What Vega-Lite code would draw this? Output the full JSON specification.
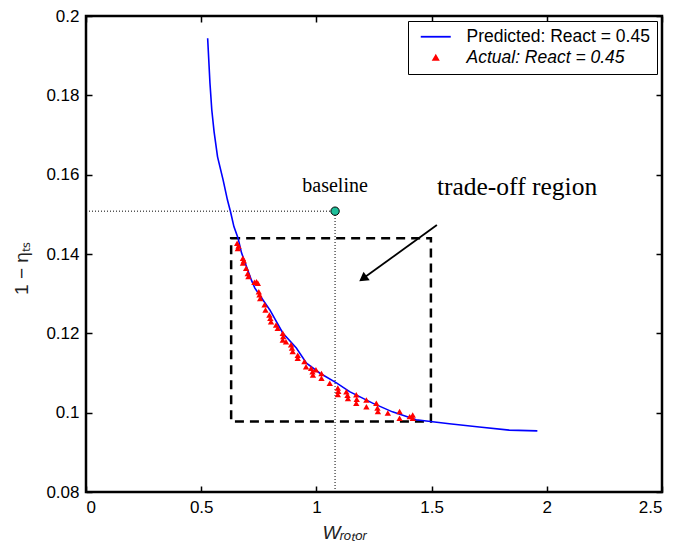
{
  "$schema": "https://vega.github.io/schema/vega-lite/v6.json",
  "width": 576,
  "height": 476,
  "autosize": {"type": "none"},
  "padding": {"left": 86, "top": 16, "right": 16, "bottom": 54},
  "background": "white",
  "config": {
    "view": {"stroke": "black", "strokeWidth": 2.5},
    "axis": {
      "domain": false,
      "grid": false,
      "ticks": true,
      "tickColor": "black",
      "tickWidth": 1.5,
      "tickSize": -6,
      "labelPadding": 13,
      "labelFont": "Liberation Sans",
      "labelFontSize": 17,
      "labelColor": "black",
      "titleFont": "Liberation Sans",
      "titleFontSize": 19,
      "titleFontWeight": "normal",
      "titleColor": "#222222"
    },
    "legend": {
      "orient": "top-right",
      "offset": 5,
      "padding": 7,
      "strokeColor": "black",
      "fillColor": "white",
      "labelFont": "Liberation Sans",
      "labelFontSize": 17.5,
      "labelColor": "black",
      "labelLimit": 0,
      "labelOffset": 22,
      "symbolOffset": 12,
      "rowPadding": 2,
      "symbolSize": 25,
      "symbolStrokeWidth": 1.8
    }
  },
  "datasets": {
    "curve": [
      {"w": 0.528, "eta": 0.1944, "series": "Predicted: React = 0.45"},
      {"w": 0.538, "eta": 0.1831, "series": "Predicted: React = 0.45"},
      {"w": 0.546, "eta": 0.1763, "series": "Predicted: React = 0.45"},
      {"w": 0.556, "eta": 0.1708, "series": "Predicted: React = 0.45"},
      {"w": 0.571, "eta": 0.1645, "series": "Predicted: React = 0.45"},
      {"w": 0.595, "eta": 0.1587, "series": "Predicted: React = 0.45"},
      {"w": 0.614, "eta": 0.1536, "series": "Predicted: React = 0.45"},
      {"w": 0.627, "eta": 0.1507, "series": "Predicted: React = 0.45"},
      {"w": 0.642, "eta": 0.1469, "series": "Predicted: React = 0.45"},
      {"w": 0.660, "eta": 0.1440, "series": "Predicted: React = 0.45"},
      {"w": 0.675, "eta": 0.1403, "series": "Predicted: React = 0.45"},
      {"w": 0.718, "eta": 0.1334, "series": "Predicted: React = 0.45"},
      {"w": 0.733, "eta": 0.1314, "series": "Predicted: React = 0.45"},
      {"w": 0.798, "eta": 0.1259, "series": "Predicted: React = 0.45"},
      {"w": 0.854, "eta": 0.1201, "series": "Predicted: React = 0.45"},
      {"w": 0.913, "eta": 0.1163, "series": "Predicted: React = 0.45"},
      {"w": 0.957, "eta": 0.1125, "series": "Predicted: React = 0.45"},
      {"w": 1.014, "eta": 0.1100, "series": "Predicted: React = 0.45"},
      {"w": 1.087, "eta": 0.1075, "series": "Predicted: React = 0.45"},
      {"w": 1.144, "eta": 0.1053, "series": "Predicted: React = 0.45"},
      {"w": 1.244, "eta": 0.1024, "series": "Predicted: React = 0.45"},
      {"w": 1.330, "eta": 0.1002, "series": "Predicted: React = 0.45"},
      {"w": 1.433, "eta": 0.0982, "series": "Predicted: React = 0.45"},
      {"w": 1.504, "eta": 0.0977, "series": "Predicted: React = 0.45"},
      {"w": 1.577, "eta": 0.0972, "series": "Predicted: React = 0.45"},
      {"w": 1.707, "eta": 0.0964, "series": "Predicted: React = 0.45"},
      {"w": 1.837, "eta": 0.0956, "series": "Predicted: React = 0.45"},
      {"w": 1.959, "eta": 0.0954, "series": "Predicted: React = 0.45"}
    ],
    "actual": [
      {"w": 0.656, "eta": 0.1427, "series": "Actual: React = 0.45"},
      {"w": 0.659, "eta": 0.1414, "series": "Actual: React = 0.45"},
      {"w": 0.662, "eta": 0.1420, "series": "Actual: React = 0.45"},
      {"w": 0.681, "eta": 0.1389, "series": "Actual: React = 0.45"},
      {"w": 0.681, "eta": 0.1377, "series": "Actual: React = 0.45"},
      {"w": 0.685, "eta": 0.1383, "series": "Actual: React = 0.45"},
      {"w": 0.695, "eta": 0.1364, "series": "Actual: React = 0.45"},
      {"w": 0.702, "eta": 0.1351, "series": "Actual: React = 0.45"},
      {"w": 0.705, "eta": 0.1343, "series": "Actual: React = 0.45"},
      {"w": 0.731, "eta": 0.1329, "series": "Actual: React = 0.45"},
      {"w": 0.740, "eta": 0.1330, "series": "Actual: React = 0.45"},
      {"w": 0.746, "eta": 0.1326, "series": "Actual: React = 0.45"},
      {"w": 0.750, "eta": 0.1305, "series": "Actual: React = 0.45"},
      {"w": 0.753, "eta": 0.1297, "series": "Actual: React = 0.45"},
      {"w": 0.756, "eta": 0.1288, "series": "Actual: React = 0.45"},
      {"w": 0.775, "eta": 0.1272, "series": "Actual: React = 0.45"},
      {"w": 0.779, "eta": 0.1259, "series": "Actual: React = 0.45"},
      {"w": 0.796, "eta": 0.1246, "series": "Actual: React = 0.45"},
      {"w": 0.803, "eta": 0.1229, "series": "Actual: React = 0.45"},
      {"w": 0.800, "eta": 0.1238, "series": "Actual: React = 0.45"},
      {"w": 0.825, "eta": 0.1221, "series": "Actual: React = 0.45"},
      {"w": 0.832, "eta": 0.1213, "series": "Actual: React = 0.45"},
      {"w": 0.854, "eta": 0.1200, "series": "Actual: React = 0.45"},
      {"w": 0.854, "eta": 0.1183, "series": "Actual: React = 0.45"},
      {"w": 0.856, "eta": 0.1192, "series": "Actual: React = 0.45"},
      {"w": 0.868, "eta": 0.1179, "series": "Actual: React = 0.45"},
      {"w": 0.890, "eta": 0.1171, "series": "Actual: React = 0.45"},
      {"w": 0.897, "eta": 0.1154, "series": "Actual: React = 0.45"},
      {"w": 0.894, "eta": 0.1163, "series": "Actual: React = 0.45"},
      {"w": 0.919, "eta": 0.1145, "series": "Actual: React = 0.45"},
      {"w": 0.919, "eta": 0.1137, "series": "Actual: React = 0.45"},
      {"w": 0.948, "eta": 0.1129, "series": "Actual: React = 0.45"},
      {"w": 0.955, "eta": 0.1116, "series": "Actual: React = 0.45"},
      {"w": 0.977, "eta": 0.1112, "series": "Actual: React = 0.45"},
      {"w": 0.998, "eta": 0.1108, "series": "Actual: React = 0.45"},
      {"w": 0.985, "eta": 0.1095, "series": "Actual: React = 0.45"},
      {"w": 0.983, "eta": 0.1103, "series": "Actual: React = 0.45"},
      {"w": 1.022, "eta": 0.1099, "series": "Actual: React = 0.45"},
      {"w": 1.022, "eta": 0.1087, "series": "Actual: React = 0.45"},
      {"w": 1.058, "eta": 0.1074, "series": "Actual: React = 0.45"},
      {"w": 1.093, "eta": 0.1062, "series": "Actual: React = 0.45"},
      {"w": 1.093, "eta": 0.1046, "series": "Actual: React = 0.45"},
      {"w": 1.095, "eta": 0.1054, "series": "Actual: React = 0.45"},
      {"w": 1.130, "eta": 0.1053, "series": "Actual: React = 0.45"},
      {"w": 1.137, "eta": 0.1036, "series": "Actual: React = 0.45"},
      {"w": 1.135, "eta": 0.1044, "series": "Actual: React = 0.45"},
      {"w": 1.173, "eta": 0.1045, "series": "Actual: React = 0.45"},
      {"w": 1.173, "eta": 0.1024, "series": "Actual: React = 0.45"},
      {"w": 1.175, "eta": 0.1034, "series": "Actual: React = 0.45"},
      {"w": 1.217, "eta": 0.1032, "series": "Actual: React = 0.45"},
      {"w": 1.217, "eta": 0.1015, "series": "Actual: React = 0.45"},
      {"w": 1.260, "eta": 0.1024, "series": "Actual: React = 0.45"},
      {"w": 1.267, "eta": 0.1003, "series": "Actual: React = 0.45"},
      {"w": 1.265, "eta": 0.1012, "series": "Actual: React = 0.45"},
      {"w": 1.310, "eta": 0.0999, "series": "Actual: React = 0.45"},
      {"w": 1.361, "eta": 0.1003, "series": "Actual: React = 0.45"},
      {"w": 1.361, "eta": 0.0986, "series": "Actual: React = 0.45"},
      {"w": 1.418, "eta": 0.0994, "series": "Actual: React = 0.45"},
      {"w": 1.418, "eta": 0.0986, "series": "Actual: React = 0.45"},
      {"w": 1.405, "eta": 0.0990, "series": "Actual: React = 0.45"}
    ]
  },
  "resolve": {"axis": {"x": "independent", "y": "independent"}},
  "layer": [
    {
      "data": {"values": [{"w": 0, "eta": 0.08}]},
      "mark": {"type": "point", "opacity": 0},
      "encoding": {
        "x": {"field": "w", "type": "quantitative", "scale": {"domain": [0, 2.5], "nice": false},
              "axis": {"orient": "bottom", "values": [0, 0.5, 1, 1.5, 2, 2.5], "format": "~g", "title": "Wᵣₒₜₒᵣ", "titleFontStyle": "italic", "titlePadding": 8, "titleX": 258}},
        "y": {"field": "eta", "type": "quantitative", "scale": {"domain": [0.08, 0.2], "nice": false, "zero": false},
              "axis": {"orient": "left", "values": [0.08, 0.1, 0.12, 0.14, 0.16, 0.18, 0.2], "format": ".2~f", "title": "1 − ηₜₛ", "titlePadding": 14, "titleY": 252}}
      }
    },
    {
      "data": {"values": [{"w": 0, "eta": 0.08}]},
      "mark": {"type": "point", "opacity": 0},
      "encoding": {
        "x": {"field": "w", "type": "quantitative", "axis": {"orient": "top", "values": [0, 0.5, 1, 1.5, 2, 2.5], "labels": false, "title": null}},
        "y": {"field": "eta", "type": "quantitative", "axis": {"orient": "right", "values": [0.08, 0.1, 0.12, 0.14, 0.16, 0.18, 0.2], "labels": false, "title": null}}
      }
    },
    {
      "data": {"values": [{"w": 0, "w2": 1.081, "eta": 0.1508}]},
      "mark": {"type": "rule", "color": "black", "strokeWidth": 1, "strokeDash": [1, 2]},
      "encoding": {
        "x": {"field": "w", "type": "quantitative", "axis": null},
        "x2": {"field": "w2"},
        "y": {"field": "eta", "type": "quantitative", "axis": null}
      }
    },
    {
      "data": {"values": [{"w": 1.081, "eta": 0.08, "eta2": 0.1508}]},
      "mark": {"type": "rule", "color": "black", "strokeWidth": 1, "strokeDash": [1, 2]},
      "encoding": {
        "x": {"field": "w", "type": "quantitative", "axis": null},
        "y": {"field": "eta", "type": "quantitative", "axis": null},
        "y2": {"field": "eta2"}
      }
    },
    {
      "data": {"values": [{"w": 0.63, "w2": 1.497, "eta": 0.0978, "eta2": 0.144}]},
      "mark": {"type": "rect", "fill": null, "fillOpacity": 0, "stroke": "black", "strokeWidth": 2.5, "strokeDash": [9, 6]},
      "encoding": {
        "x": {"field": "w", "type": "quantitative", "axis": null},
        "x2": {"field": "w2"},
        "y": {"field": "eta", "type": "quantitative", "axis": null},
        "y2": {"field": "eta2"}
      }
    },
    {
      "data": {"name": "curve"},
      "mark": {"type": "line", "strokeWidth": 1.6},
      "encoding": {
        "x": {"field": "w", "type": "quantitative", "axis": null},
        "y": {"field": "eta", "type": "quantitative", "axis": null},
        "color": {"field": "series", "type": "nominal",
                  "scale": {"domain": ["Predicted: React = 0.45", "Actual: React = 0.45"], "range": ["#0000ff", "#ff0000"]},
                  "legend": {"title": null,
                             "encode": {
                               "symbols": {"update": {"stroke": {"scale": "color", "field": "value"}}},
                               "labels": {"update": {"fontStyle": {"signal": "indexof(datum.label, 'Actual') >= 0 ? 'italic' : 'normal'"}}}
                             }}}
      }
    },
    {
      "data": {"name": "actual"},
      "mark": {"type": "point", "filled": true, "opacity": 1, "size": 40},
      "encoding": {
        "x": {"field": "w", "type": "quantitative", "axis": null},
        "y": {"field": "eta", "type": "quantitative", "axis": null},
        "color": {"field": "series", "type": "nominal", "legend": {"title": null}},
        "shape": {"field": "series", "type": "nominal",
                  "scale": {"domain": ["Predicted: React = 0.45", "Actual: React = 0.45"], "range": ["M-6,0H6", "triangle-up"]},
                  "legend": {"title": null,
                             "encode": {
                               "symbols": {"update": {"stroke": {"scale": "color", "field": "value"}}},
                               "labels": {"update": {"fontStyle": {"signal": "indexof(datum.label, 'Actual') >= 0 ? 'italic' : 'normal'"}}}
                             }}}
      }
    },
    {
      "data": {"values": [{"w": 1.523, "w2": 1.202, "eta": 0.1473, "eta2": 0.1338}]},
      "mark": {"type": "rule", "color": "black", "strokeWidth": 1.8},
      "encoding": {
        "x": {"field": "w", "type": "quantitative", "axis": null},
        "x2": {"field": "w2"},
        "y": {"field": "eta", "type": "quantitative", "axis": null},
        "y2": {"field": "eta2"}
      }
    },
    {
      "data": {"values": [{"w": 1.202, "eta": 0.1338}]},
      "mark": {"type": "point", "shape": "triangle-up", "filled": true, "color": "black", "opacity": 1, "size": 110, "angle": 234},
      "encoding": {
        "x": {"field": "w", "type": "quantitative", "axis": null},
        "y": {"field": "eta", "type": "quantitative", "axis": null}
      }
    },
    {
      "data": {"values": [{"w": 1.081, "eta": 0.1508}]},
      "mark": {"type": "point", "shape": "circle", "filled": true, "fill": "#1fbf9a", "stroke": "black", "strokeWidth": 1, "opacity": 1, "size": 70},
      "encoding": {
        "x": {"field": "w", "type": "quantitative", "axis": null},
        "y": {"field": "eta", "type": "quantitative", "axis": null}
      }
    },
    {
      "data": {"values": [{"w": 1.081, "eta": 0.1571, "label": "baseline"}]},
      "mark": {"type": "text", "font": "Liberation Serif", "fontSize": 20, "align": "center", "baseline": "middle", "color": "black"},
      "encoding": {
        "x": {"field": "w", "type": "quantitative", "axis": null},
        "y": {"field": "eta", "type": "quantitative", "axis": null},
        "text": {"field": "label"}
      }
    },
    {
      "data": {"values": [{"w": 1.523, "eta": 0.1569, "label": "trade-off region"}]},
      "mark": {"type": "text", "font": "Liberation Serif", "fontSize": 25.5, "align": "left", "baseline": "middle", "color": "black"},
      "encoding": {
        "x": {"field": "w", "type": "quantitative", "axis": null},
        "y": {"field": "eta", "type": "quantitative", "axis": null},
        "text": {"field": "label"}
      }
    }
  ]
}
